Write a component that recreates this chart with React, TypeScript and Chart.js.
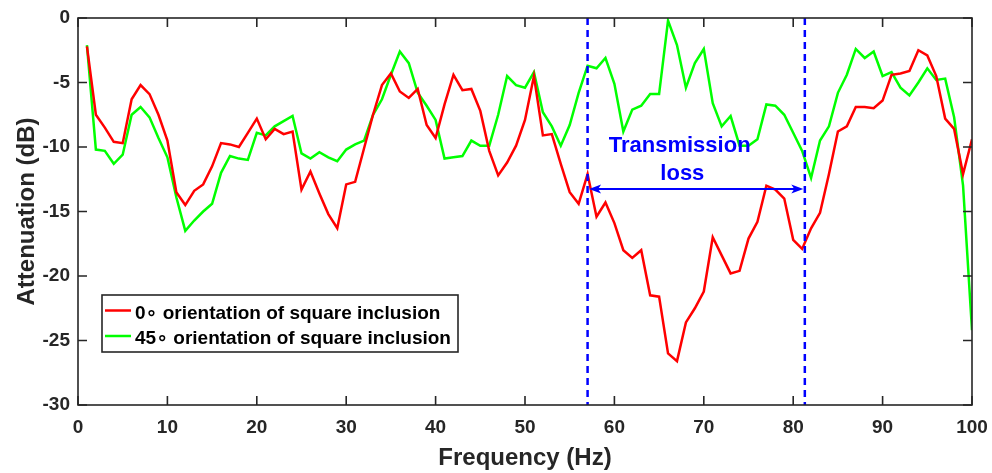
import React, { useEffect, useRef } from "react";
import { Chart, registerables } from "chart.js";

Chart.register(...registerables);

// ---- data ----
const frequencies: number[] = Array.from({ length: 100 }, (_, i) => i + 1);

const attenuation0: number[] = [
  -2.2, -7.5, -8.5, -9.6, -9.7, -6.3, -5.2, -5.9, -7.5, -9.5,
  -13.5, -14.5, -13.4, -12.9, -11.5, -9.7, -9.8, -10.0, -8.9, -7.8,
  -9.4, -8.6, -9.0, -8.8, -13.3, -11.9, -13.6, -15.2, -16.3, -12.9,
  -12.7, -10.1, -7.5, -5.2, -4.3, -5.7, -6.2, -5.5, -8.3, -9.3,
  -6.7, -4.4, -5.6, -5.5, -7.2, -10.3, -12.2, -11.2, -9.9, -7.9,
  -4.5, -9.1, -9.0, -11.3, -13.5, -14.4, -12.1, -15.4, -14.3, -15.9,
  -18.0, -18.6, -18.0, -21.5, -21.6, -26.0, -26.6, -23.6, -22.5, -21.2,
  -17.0, -18.4, -19.8, -19.6, -17.1, -15.8, -13.0, -13.3, -14.0, -17.2,
  -17.9, -16.3, -15.1, -12.1, -8.8, -8.4, -6.9, -6.9, -7.0, -6.4,
  -4.4, -4.3, -4.1, -2.5, -2.9, -4.5, -7.8, -8.6, -12.1, -9.4,
];

const attenuation45: number[] = [
  -2.1, -10.2, -10.3, -11.3, -10.6, -7.5, -6.9, -7.7, -9.3, -10.8,
  -13.9, -16.5, -15.7, -15.0, -14.4, -12.0, -10.7, -10.9, -11.0, -8.9,
  -9.1, -8.4, -8.0, -7.6, -10.5, -10.9, -10.4, -10.8, -11.1, -10.2,
  -9.8, -9.5, -7.5, -6.3, -4.4, -2.6, -3.5, -5.8, -6.8, -7.9,
  -10.9, -10.8, -10.7, -9.5, -9.9, -9.9, -7.5, -4.5, -5.2, -5.4,
  -4.2, -7.3, -8.4, -9.9, -8.3, -5.8, -3.7, -3.9, -3.1, -5.1,
  -8.8, -7.1, -6.8, -5.9, -5.9, -0.2, -2.1, -5.4, -3.5, -2.4,
  -6.6, -8.4, -7.6, -9.9, -9.9, -9.4, -6.7, -6.8, -7.5, -8.9,
  -10.3, -12.4, -9.5, -8.4, -5.8, -4.4, -2.4, -3.1, -2.6, -4.5,
  -4.2, -5.4, -6.0, -5.0, -3.9, -4.8, -4.7, -7.7, -13.0, -24.2,
];

const seriesLabels: string[] = [
  "0\u2218 orientation of square inclusion",
  "45\u2218 orientation of square inclusion",
];
const seriesColors: string[] = ["#ff0000", "#00ff00"];

const xTicks: number[] = [0, 10, 20, 30, 40, 50, 60, 70, 80, 90, 100];
const yTicks: number[] = [0, -5, -10, -15, -20, -25, -30];

const bandLimits: number[] = [57, 81.3];
const arrowLevel = -13.25;
const annotationText: string[] = ["Transmission", "loss"];
const annotationAnchor: { x: number; y: number }[] = [
  { x: 67.3, y: -10.35 },
  { x: 67.6, y: -12.55 },
];

const FONT = '"Liberation Sans", Arial, "DejaVu Sans", sans-serif';
const AXIS = "#262626";

const overlayPlugin = {
  id: "overlay",
  afterDatasetsDraw(chart: any) {
    const { ctx, chartArea: a, scales } = chart;
    const x = scales.x;
    const y = scales.y;
    ctx.save();

    // dashed band limits
    ctx.strokeStyle = "#0000ff";
    ctx.lineWidth = 2.5;
    ctx.setLineDash([7, 5]);
    for (const b of bandLimits) {
      const px = x.getPixelForValue(b);
      ctx.beginPath();
      ctx.moveTo(px, a.top);
      ctx.lineTo(px, a.bottom);
      ctx.stroke();
    }
    ctx.setLineDash([]);

    // double arrow
    const x1 = x.getPixelForValue(bandLimits[0]) + 1.5;
    const x2 = x.getPixelForValue(bandLimits[1]) - 1.5;
    const ay = y.getPixelForValue(arrowLevel);
    ctx.lineWidth = 2;
    ctx.beginPath();
    ctx.moveTo(x1 + 4, ay);
    ctx.lineTo(x2 - 4, ay);
    ctx.stroke();
    ctx.fillStyle = "#0000ff";
    const head = (tip: number, dir: number) => {
      ctx.beginPath();
      ctx.moveTo(tip, ay);
      ctx.lineTo(tip + dir * 12, ay - 4.5);
      ctx.lineTo(tip + dir * 9, ay);
      ctx.lineTo(tip + dir * 12, ay + 4.5);
      ctx.closePath();
      ctx.fill();
    };
    head(x1, 1);
    head(x2, -1);

    // annotation text
    ctx.font = `bold 22px ${FONT}`;
    ctx.textAlign = "center";
    ctx.textBaseline = "alphabetic";
    annotationText.forEach((t, i) => {
      ctx.fillText(
        t,
        x.getPixelForValue(annotationAnchor[i].x),
        y.getPixelForValue(annotationAnchor[i].y)
      );
    });

    // axes box + inward ticks
    ctx.strokeStyle = AXIS;
    ctx.lineWidth = 1.6;
    ctx.strokeRect(a.left, a.top, a.right - a.left, a.bottom - a.top);
    const tl = 9;
    ctx.beginPath();
    for (const t of xTicks) {
      const px = x.getPixelForValue(t);
      ctx.moveTo(px, a.bottom);
      ctx.lineTo(px, a.bottom - tl);
      ctx.moveTo(px, a.top);
      ctx.lineTo(px, a.top + tl);
    }
    for (const t of yTicks) {
      const py = y.getPixelForValue(t);
      ctx.moveTo(a.left, py);
      ctx.lineTo(a.left + tl, py);
      ctx.moveTo(a.right, py);
      ctx.lineTo(a.right - tl, py);
    }
    ctx.stroke();

    // legend
    const lx = 102, ly = 295, lw = 356, lh = 57;
    ctx.fillStyle = "#ffffff";
    ctx.fillRect(lx, ly, lw, lh);
    ctx.strokeStyle = AXIS;
    ctx.lineWidth = 1.6;
    ctx.strokeRect(lx, ly, lw, lh);
    ctx.font = `bold 19px ${FONT}`;
    ctx.textAlign = "left";
    ctx.textBaseline = "alphabetic";
    seriesLabels.forEach((label, i) => {
      const rowY = 310.5 + i * 25.5;
      ctx.strokeStyle = seriesColors[i];
      ctx.lineWidth = 2.5;
      ctx.beginPath();
      ctx.moveTo(105, rowY);
      ctx.lineTo(131, rowY);
      ctx.stroke();
      ctx.fillStyle = "#000000";
      ctx.fillText(label, 135, rowY + 8);
    });

    ctx.restore();
  },
};

export default function App() {
  const ref = useRef<HTMLCanvasElement>(null);

  useEffect(() => {
    const canvas = ref.current;
    if (!canvas) return;
    const chart = new Chart(canvas, {
      type: "line",
      data: {
        datasets: [attenuation0, attenuation45].map((vals, i) => ({
          label: seriesLabels[i],
          data: frequencies.map((f, j) => ({ x: f, y: vals[j] })),
          borderColor: seriesColors[i],
          backgroundColor: seriesColors[i],
          borderWidth: 2.5,
          pointRadius: 0,
          tension: 0,
          fill: false,
        })),
      },
      options: {
        responsive: false,
        animation: false,
        layout: { padding: { top: 18, right: 20, left: 0, bottom: 0 }, autoPadding: false },
        plugins: { legend: { display: false }, tooltip: { enabled: false } },
        scales: {
          x: {
            type: "linear",
            min: 0,
            max: 100,
            afterBuildTicks: (s: any) => {
              s.ticks = xTicks.map((v) => ({ value: v }));
            },
            afterFit: (s: any) => {
              s.height = 68;
              s.paddingLeft = 0;
              s.paddingRight = 0;
            },
            grid: { display: false, drawTicks: false },
            border: { display: false },
            ticks: {
              color: AXIS,
              padding: 11,
              maxRotation: 0,
              autoSkip: false,
              font: { family: FONT, size: 19, weight: "bold" },
            },
            title: {
              display: true,
              text: "Frequency (Hz)",
              color: AXIS,
              padding: { top: 0, bottom: 0 },
              font: { family: FONT, size: 24, weight: "bold" },
            },
          },
          y: {
            type: "linear",
            min: -30,
            max: 0,
            afterBuildTicks: (s: any) => {
              s.ticks = yTicks.map((v) => ({ value: v }));
            },
            afterFit: (s: any) => {
              s.width = 78;
              s.paddingTop = 0;
              s.paddingBottom = 0;
            },
            grid: { display: false, drawTicks: false },
            border: { display: false },
            ticks: {
              color: AXIS,
              padding: 8,
              autoSkip: false,
              font: { family: FONT, size: 19, weight: "bold" },
            },
            title: {
              display: true,
              text: "Attenuation (dB)",
              color: AXIS,
              padding: { top: 13, bottom: 0 },
              font: { family: FONT, size: 24, weight: "bold" },
            },
          },
        },
      },
      plugins: [overlayPlugin],
    });
    return () => chart.destroy();
  }, []);

  return (
    <div style={{ position: "fixed", left: 0, top: 0, width: 992, height: 473, background: "#ffffff" }}>
      <canvas ref={ref} width={992} height={473} style={{ display: "block" }} />
    </div>
  );
}
